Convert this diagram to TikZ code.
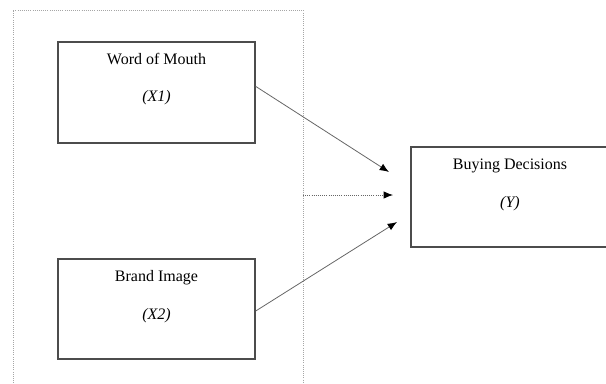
\documentclass[tikz,border=0pt]{standalone}
\usepackage{fontspec}
\setmainfont{Liberation Serif}
\usetikzlibrary{arrows.meta,calc}
\tikzstyle{box}=[draw=black!70, line width=1pt, rectangle, inner sep=0pt]
\tikzstyle{title}=[anchor=north, font=\fontsize{12}{14}\selectfont, inner sep=0pt]
\tikzstyle{edge}=[draw=black!60, line width=0.6pt, -{Latex[length=7pt,width=5.5pt,black]}]
\tikzstyle{frame}=[draw=black!35, line width=0.6pt, densely dotted]

\begin{document}
\begin{tikzpicture}[x=0.75pt, y=-0.75pt]
  \useasboundingbox (0,0) rectangle (606,383);

  % dotted frame round the two inputs
  \draw[frame] (13,383) -- (13,10) -- (303,10) -- (303,383);

  \node[box, minimum width=197*0.75pt, minimum height=101*0.75pt] (wom) at (156.5,92.5) {};
  \node[box, minimum width=197*0.75pt, minimum height=100*0.75pt] (brand) at (156.5,309) {};
  \node[box, minimum width=240*0.75pt, minimum height=100*0.75pt] (buy) at (531,197) {};

  \node[title, align=center] (womtxt) at ($(wom.north)+(0,12)$)
      {Word of Mouth\\[1.15em]\textit{(X1)}};
  \node[title, align=center] (brandtxt) at ($(brand.north)+(0,12)$)
      {Brand Image\\[1.2em]\textit{(X2)}};
  \node[title, align=center] (buytxt) at (510,159)
      {Buying Decisions\\[1.2em]\textit{(Y)}};

  \coordinate (tip1) at (389,172);
  \coordinate (tip2) at (393,195);
  \coordinate (tip3) at (397,222);
  \coordinate (mid) at (303,195);

  \path[edge] ($(wom.north east)!0.44!(wom.south east)$) -- (tip1);
  \path[edge, densely dotted] (mid) -- (tip2);
  \path[edge] ($(brand.north east)!0.52!(brand.south east)$) -- (tip3);

\end{tikzpicture}
\end{document}
